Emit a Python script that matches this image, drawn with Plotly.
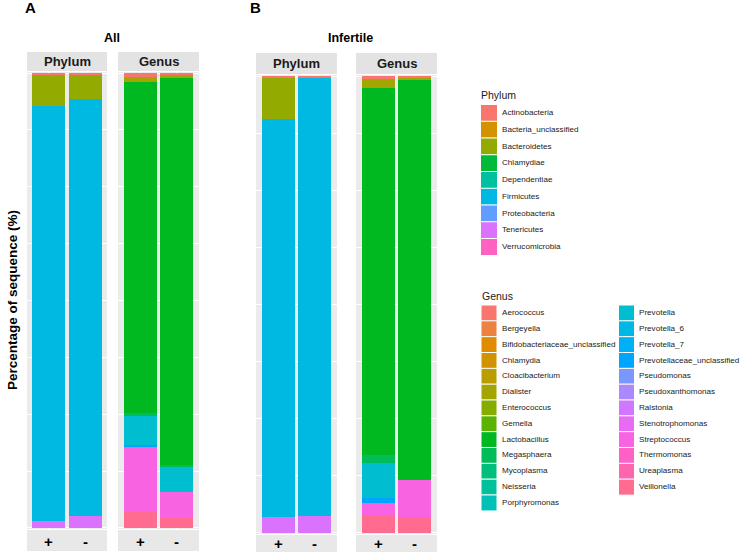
import math
import plotly.graph_objects as go

# ---------------- data ----------------
samples = ["+", "-"]

phyla = ["Actinobacteria", "Bacteria_unclassified", "Bacteroidetes", "Chlamydiae",
         "Dependentiae", "Firmicutes", "Proteobacteria", "Tenericutes", "Verrucomicrobia"]

genera = ["Aerococcus", "Bergeyella", "Bifidobacteriaceae_unclassified", "Chlamydia",
          "Cloacibacterium", "Dialister", "Enterococcus", "Gemella", "Lactobacillus",
          "Megasphaera", "Mycoplasma", "Neisseria", "Porphyromonas", "Prevotella",
          "Prevotella_6", "Prevotella_7", "Prevotellaceae_unclassified", "Pseudomonas",
          "Pseudoxanthomonas", "Ralstonia", "Stenotrophomonas", "Streptococcus",
          "Thermomonas", "Ureaplasma", "Veillonella"]

# Phylum percentages [+, -]
phylum_all = {
    "Actinobacteria": [0.4, 0.3],
    "Bacteroidetes": [6.8, 5.3],
    "Firmicutes": [91.3, 91.8],
    "Tenericutes": [1.5, 2.6],
}
phylum_infertile = {
    "Actinobacteria": [0.3, 0.4],
    "Bacteroidetes": [9.0, 0.0],
    "Firmicutes": [87.2, 96.0],
    "Tenericutes": [3.5, 3.6],
}
# Genus percentages [+, -]
genus_all = {
    "Aerococcus": [0.9, 0.3],
    "Dialister": [1.1, 0.7],
    "Lactobacillus": [72.8, 85.1],
    "Megasphaera": [0.5, 0.5],
    "Prevotella": [6.4, 5.5],
    "Prevotellaceae_unclassified": [0.5, 0.0],
    "Streptococcus": [14.3, 5.7],
    "Veillonella": [3.5, 2.2],
}
genus_infertile = {
    "Aerococcus": [0.7, 0.4],
    "Dialister": [1.8, 0.4],
    "Lactobacillus": [80.4, 87.6],
    "Megasphaera": [1.8, 0.0],
    "Prevotella": [7.7, 0.0],
    "Prevotellaceae_unclassified": [1.1, 0.0],
    "Streptococcus": [2.6, 8.1],
    "Veillonella": [3.9, 3.5],
}

panel_titles = ["Phylum", "Genus", "Phylum", "Genus"]
group_titles = ["All", "Infertile"]
panel_letters = ["A", "B"]
y_title = "Percentage of sequence (%)"


# ---------------- palette (ggplot2 hue_pal) ----------------
def hcl_hex(h, c=100.0, l=65.0):
    hr = math.radians(h)
    U, V = c * math.cos(hr), c * math.sin(hr)
    Xn, Yn, Zn = 95.047, 100.0, 108.883
    Y = Yn * (((l + 16) / 116) ** 3 if l > 8 else l / 903.3)
    den = Xn + 15 * Yn + 3 * Zn
    un, vn = 4 * Xn / den, 9 * Yn / den
    u = U / (13 * l) + un
    v = V / (13 * l) + vn
    X = 9.0 * Y * u / (4 * v)
    Z = -X / 3 - 5 * Y + 3 * Y / v
    r = (3.240479 * X - 1.537150 * Y - 0.498535 * Z) / Yn
    g = (-0.969256 * X + 1.875992 * Y + 0.041556 * Z) / Yn
    b = (0.055648 * X - 0.204043 * Y + 1.057311 * Z) / Yn

    def gam(t):
        t = 12.92 * t if t <= 0.0031308 else 1.055 * t ** (1 / 2.4) - 0.055
        return max(0, min(255, round(t * 255)))
    return "#%02X%02X%02X" % (gam(r), gam(g), gam(b))


def hue_pal(n):
    return [hcl_hex(15 + 360.0 * i / n) for i in range(n)]


phylum_colors = dict(zip(phyla, hue_pal(len(phyla))))
genus_colors = dict(zip(genera, hue_pal(len(genera))))

# ---------------- layout helpers ----------------
W, H = 740, 552
FONT = "Liberation Sans, Arial, sans-serif"
LEG_FONT = 8.1


def fx(px):
    return px / W


def fy(py):
    return 1 - py / H


fig = go.Figure()
shapes = []
annotations = []

# panel geometry (pixels): x0, x1, ytop, ybottom
panels = [
    (27, 107, 72, 529),
    (118, 199, 72, 529),
    (256, 337, 75, 534),
    (356, 437, 75, 534),
]
tick_label_y = [541, 541, 543, 543]
panel_data = [
    (phyla, phylum_all, phylum_colors),
    (genera, genus_all, genus_colors),
    (phyla, phylum_infertile, phylum_colors),
    (genera, genus_infertile, genus_colors),
]

layout_axes = {}
for i, ((x0, x1, yt, yb), (levels, data, cols)) in enumerate(zip(panels, panel_data)):
    n = i + 1
    xa = "x" if n == 1 else f"x{n}"
    ya = "y" if n == 1 else f"y{n}"
    # ggplot stacks first factor level on top -> add in reverse
    for lev in reversed(levels):
        vals = data.get(lev, [0.0, 0.0])
        fig.add_trace(go.Bar(
            x=samples, y=vals, name=lev, marker=dict(color=cols[lev], line=dict(width=0)),
            width=0.9, xaxis=xa, yaxis=ya, showlegend=False,
            hovertemplate=lev + ": %{y}%<extra></extra>"))
    xkey = "xaxis" if n == 1 else f"xaxis{n}"
    ykey = "yaxis" if n == 1 else f"yaxis{n}"
    layout_axes[xkey] = dict(
        domain=[fx(x0), fx(x1)], anchor=ya, type="category",
        categoryorder="array", categoryarray=samples, range=[-0.6, 1.6],
        showgrid=True, gridcolor="white", gridwidth=1.1, zeroline=False, showline=False,
        ticks="", showticklabels=False, fixedrange=True)
    layout_axes[ykey] = dict(
        domain=[fy(yb), fy(yt)], anchor=xa, range=[-0.25, 100.25],
        showticklabels=False, ticks="", zeroline=False, showline=False,
        showgrid=True, gridcolor="white", gridwidth=1.1, dtick=25, tick0=0,
        minor=dict(dtick=12.5, showgrid=True, gridcolor="white", gridwidth=0.6),
        fixedrange=True)
    # grey panel background
    shapes.append(dict(type="rect", xref=f"{xa} domain", yref=f"{ya} domain",
                       x0=0, x1=1, y0=0, y1=1, fillcolor="#EBEBEB",
                       line=dict(width=0), layer="below"))
    # sample labels under each panel
    for s in samples:
        annotations.append(dict(text=s, xref=xa, yref="paper", x=s, y=fy(tick_label_y[i]),
                                showarrow=False, xanchor="center", yanchor="middle",
                                font=dict(family=FONT, size=15, color="black", weight="bold")))

# ---------------- custom legends (ggplot-style keys) ----------------
ph_top, ph_step = 113, 16.75
n_ph = len(phyla)
layout_axes["xaxis5"] = dict(domain=[fx(470), fx(740)], range=[470, 740], visible=False,
                             anchor="y5", fixedrange=True)
layout_axes["yaxis5"] = dict(domain=[fy(ph_top + (n_ph - 0.5) * ph_step), fy(ph_top - 0.5 * ph_step)],
                             range=[n_ph - 0.5, -0.5], visible=False, anchor="x5", fixedrange=True)
fig.add_trace(go.Scatter(
    x=[489] * n_ph, y=list(range(n_ph)), mode="markers", xaxis="x5", yaxis="y5",
    marker=dict(symbol="square", size=17, color=[phylum_colors[p] for p in phyla],
                line=dict(color="white", width=1)),
    showlegend=False, hoverinfo="skip", cliponaxis=False))
fig.add_trace(go.Scatter(
    x=[502] * n_ph, y=list(range(n_ph)), mode="text", text=phyla, textposition="middle right",
    textfont=dict(family=FONT, size=LEG_FONT, color="#222222"), xaxis="x5", yaxis="y5",
    showlegend=False, hoverinfo="skip", cliponaxis=False))

ge_top, ge_step = 313, 15.83
col1 = genera[:13]
col2 = genera[13:]
layout_axes["xaxis6"] = dict(domain=[fx(470), fx(740)], range=[470, 740], visible=False,
                             anchor="y6", fixedrange=True)
layout_axes["yaxis6"] = dict(domain=[fy(ge_top + (len(col1) - 0.5) * ge_step), fy(ge_top - 0.5 * ge_step)],
                             range=[len(col1) - 0.5, -0.5], visible=False, anchor="x6", fixedrange=True)
for col, mx, tx in [(col1, 489, 502), (col2, 626.5, 639)]:
    fig.add_trace(go.Scatter(
        x=[mx] * len(col), y=list(range(len(col))), mode="markers", xaxis="x6", yaxis="y6",
        marker=dict(symbol="square", size=16, color=[genus_colors[g] for g in col],
                    line=dict(color="white", width=1)),
        showlegend=False, hoverinfo="skip", cliponaxis=False))
    fig.add_trace(go.Scatter(
        x=[tx] * len(col), y=list(range(len(col))), mode="text", text=col,
        textposition="middle right", textfont=dict(family=FONT, size=LEG_FONT, color="#222222"),
        xaxis="x6", yaxis="y6", showlegend=False, hoverinfo="skip", cliponaxis=False))

# ---------------- strips, titles ----------------
strip_tops = [(52, 71), (52, 71), (53, 74), (53, 74)]
bottom_strips = [(530, 551), (530, 551), (535, 552), (535, 552)]
for (x0, x1, yt, yb), (st0, st1), (sb0, sb1), title in zip(panels, strip_tops, bottom_strips, panel_titles):
    shapes.append(dict(type="rect", xref="paper", yref="paper", x0=fx(x0), x1=fx(x1),
                       y0=fy(st1), y1=fy(st0), fillcolor="#E3E3E3", line=dict(width=0), layer="below"))
    shapes.append(dict(type="rect", xref="paper", yref="paper", x0=fx(x0), x1=fx(x1),
                       y0=fy(sb1), y1=fy(sb0), fillcolor="#E8E8E8", line=dict(width=0), layer="below"))
    annotations.append(dict(text=title, xref="paper", yref="paper", x=fx((x0 + x1) / 2),
                            y=fy((st0 + st1) / 2), showarrow=False, xanchor="center", yanchor="middle",
                            font=dict(family=FONT, size=13, color="#1a1a1a", weight="bold")))

for txt, cx in zip(group_titles, [112, 350]):
    annotations.append(dict(text=txt, xref="paper", yref="paper", x=fx(cx), y=fy(38),
                            showarrow=False, xanchor="center", yanchor="middle",
                            font=dict(family=FONT, size=12.5, color="black", weight="bold")))
for txt, lx in zip(panel_letters, [23, 248]):
    annotations.append(dict(text=txt, xref="paper", yref="paper", x=fx(lx), y=fy(8),
                            showarrow=False, xanchor="left", yanchor="middle",
                            font=dict(family=FONT, size=15, color="black", weight="bold")))
annotations.append(dict(text=y_title, xref="paper", yref="paper", x=fx(12), y=fy(300),
                        textangle=-90, showarrow=False, xanchor="center", yanchor="middle",
                        font=dict(family=FONT, size=13.5, color="black", weight="bold")))
annotations.append(dict(text="Phylum", xref="paper", yref="paper", x=fx(479), y=fy(95),
                        showarrow=False, xanchor="left", yanchor="middle",
                        font=dict(family=FONT, size=10.5, color="#1a1a1a")))
annotations.append(dict(text="Genus", xref="paper", yref="paper", x=fx(480), y=fy(296),
                        showarrow=False, xanchor="left", yanchor="middle",
                        font=dict(family=FONT, size=10.5, color="#1a1a1a")))

fig.update_layout(
    width=W, height=H, margin=dict(l=0, r=0, t=0, b=0),
    paper_bgcolor="white", plot_bgcolor="white",
    barmode="stack", showlegend=False,
    shapes=shapes, annotations=annotations,
    font=dict(family=FONT),
    **layout_axes,
)

fig.write_html("out.html", config={"displayModeBar": False},
               post_script="document.body.style.margin='0';")
